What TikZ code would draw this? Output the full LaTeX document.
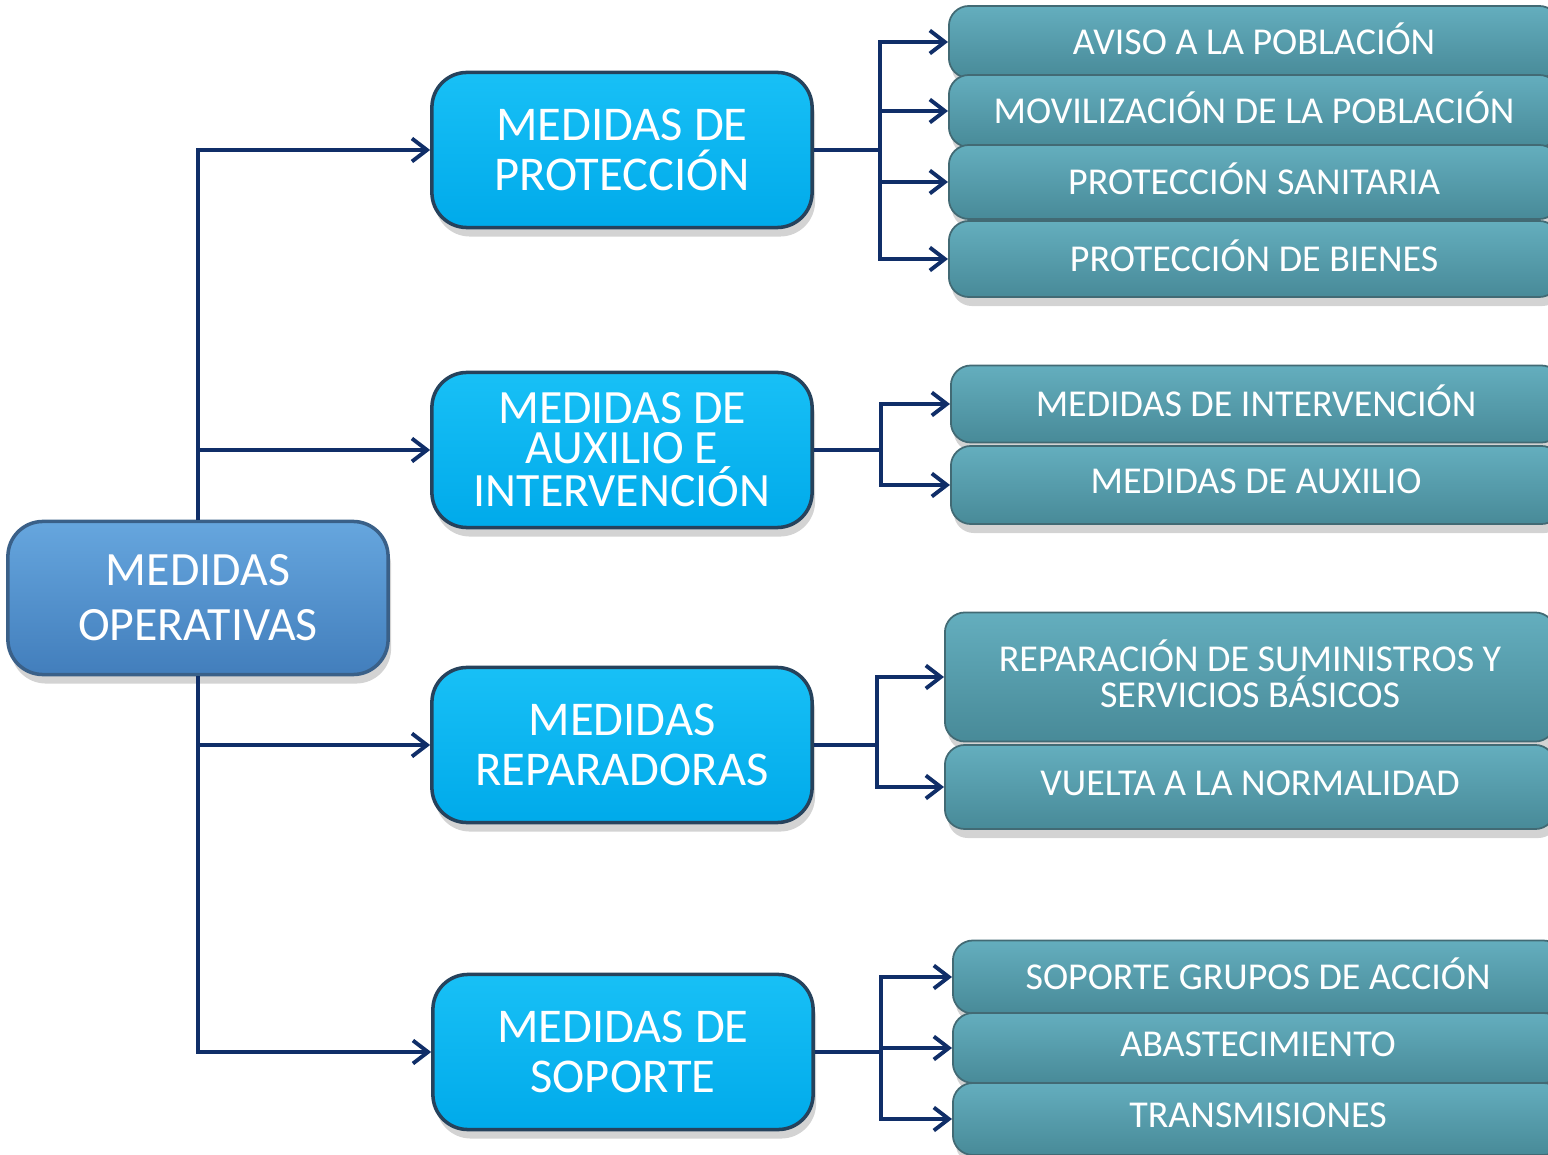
\documentclass[tikz,border=0pt]{standalone}
\usepackage{fontspec}
\setmainfont{Carlito}
\usetikzlibrary{arrows.meta,shadows}
\definecolor{linkblue}{RGB}{16,46,104}
\definecolor{roottop}{RGB}{102,166,222}
\definecolor{rootbot}{RGB}{66,126,188}
\definecolor{rootline}{RGB}{58,96,136}
\definecolor{midtop}{RGB}{24,192,246}
\definecolor{midbot}{RGB}{0,170,234}
\definecolor{midline}{RGB}{38,66,92}
\definecolor{subtop}{RGB}{100,174,190}
\definecolor{subbot}{RGB}{72,138,152}
\definecolor{subline}{RGB}{66,106,116}
\begin{document}
\begin{tikzpicture}[x=0.01cm,y=-0.01cm,
	box/.style={align=center,text=white,inner sep=1pt,drop shadow={shadow xshift=0.3mm,shadow yshift=-0.9mm,opacity=0.35}},
	top/.style={box,draw=rootline,line width=1pt,rounded corners=3.5mm,top color=roottop,bottom color=rootbot,minimum width=38mm,minimum height=15.3mm,font=\fontsize{13.6}{15.6}\selectfont},
	mid/.style={box,draw=midline,line width=1pt,rounded corners=3.5mm,top color=midtop,bottom color=midbot,minimum width=38mm,minimum height=15.5mm,font=\fontsize{13.8}{14.2}\selectfont},
	sub/.style={box,draw=subline,line width=0.5pt,rounded corners=2mm,top color=subtop,bottom color=subbot,anchor=west,minimum width=61mm,text depth=0.4ex,font=\fontsize{10.8}{8.4}\selectfont},
	link/.style={draw=linkblue,line width=1.1pt},
	arr/.style={link,-{Straight Barb[length=1.5mm,width=2.3mm]}}]
	\useasboundingbox (0,0) rectangle (1548,1155);
	\node[top] (ops) at (198,598) {MEDIDAS\\OPERATIVAS};
	\node[mid] (prot) at (622,150) {MEDIDAS DE\\PROTECCIÓN};
	\node[mid,font=\fontsize{13.6}{11.2}\selectfont] (aux) at (622,450) {MEDIDAS DE\\AUXILIO E\\INTERVENCIÓN};
	\node[mid] (rep) at (622,745) {MEDIDAS\\REPARADORAS};
	\node[mid] (sop) at (623,1052) {MEDIDAS DE\\SOPORTE};
	\foreach \n/\x/\y/\h/\t in {aviso/948/42/7.2/AVISO A LA POBLACIÓN,movil/948/111/7.2/MOVILIZACIÓN DE LA POBLACIÓN,
		sanit/948/182/7.4/PROTECCIÓN SANITARIA,bienes/948/259/7.6/PROTECCIÓN DE BIENES,
		interv/950/404/7.7/MEDIDAS DE INTERVENCIÓN,auxil/950/485/7.8/MEDIDAS DE AUXILIO,
		repar/944/677/12.9/REPARACIÓN DE SUMINISTROS Y\\SERVICIOS BÁSICOS,vuelta/944/787/8.4/VUELTA A LA NORMALIDAD,
		grupos/952/977/7.3/SOPORTE GRUPOS DE ACCIÓN,abast/952/1048/7.0/ABASTECIMIENTO,trans/952/1119/7.2/TRANSMISIONES}
		\node[sub,minimum height=\h mm] (\n) at (\x,\y) {\t};
	% trunk
	\foreach \m in {prot,aux} \draw[arr] (ops.north) |- (\m.west);
	\foreach \m in {rep,sop} \draw[arr] (ops.south) |- (\m.west);
	% branches
	\draw[link] (prot.east) -- (880,150) coordinate (bp);
	\foreach \s in {aviso,movil,sanit,bienes} \draw[arr] (bp) |- (\s.west);
	\draw[link] (aux.east) -- (881,450) coordinate (ba);
	\foreach \s in {interv,auxil} \draw[arr] (ba) |- (\s.west);
	\draw[link] (rep.east) -- (877,745) coordinate (br);
	\foreach \s in {repar,vuelta} \draw[arr] (br) |- (\s.west);
	\draw[link] (sop.east) -- (881,1052) coordinate (bs);
	\foreach \s in {grupos,abast,trans} \draw[arr] (bs) |- (\s.west);
\end{tikzpicture}
\end{document}
